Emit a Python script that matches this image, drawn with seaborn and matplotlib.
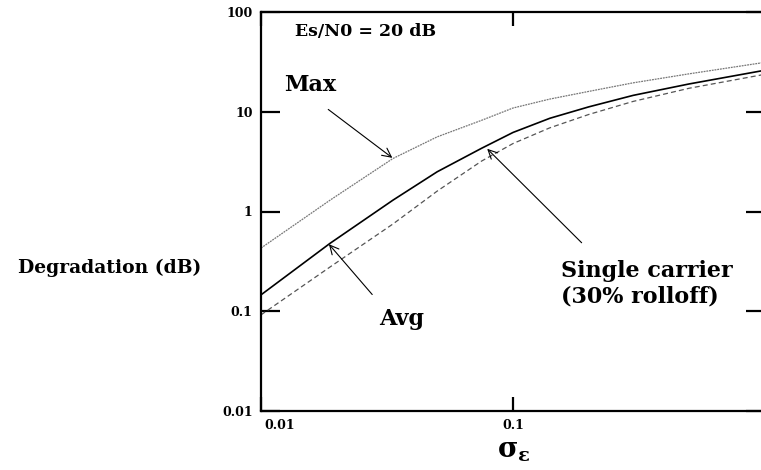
import matplotlib
matplotlib.use("Agg")
import matplotlib.pyplot as plt
import matplotlib.transforms as mtransforms
import pandas as pd
import seaborn as sns

# ---- data ----
sigma = [0.01, 0.0188, 0.0334, 0.05, 0.075, 0.1, 0.14, 0.2, 0.3, 0.5, 0.96, 1.0]
deg_max = [0.43, 1.30, 3.4, 5.6, 8.2, 10.9, 13.4, 16.0, 19.5, 24.0, 30.8, 31.3]
deg_avg = [0.146, 0.48, 1.30, 2.5, 4.3, 6.2, 8.6, 11.2, 14.6, 19.0, 25.6, 26.0]
deg_sc = [0.092, 0.278, 0.75, 1.6, 3.2, 4.8, 6.9, 9.4, 12.7, 17.2, 23.3, 23.7]
series_names = ["Max", "Avg", "Single carrier"]
x_ticks = [0.01, 0.1]
x_tick_labels = ["0.01", "0.1"]
y_ticks = [0.01, 0.1, 1, 10, 100]
y_tick_labels = ["0.01", "0.1", "1", "10", "100"]

sns.set_style("white")
plt.rcParams["font.family"] = ["DejaVu Serif"]
plt.rcParams["font.weight"] = "bold"
plt.rcParams["text.color"] = "black"
plt.rcParams["axes.labelcolor"] = "black"
plt.rcParams["xtick.color"] = "black"
plt.rcParams["ytick.color"] = "black"
plt.rcParams["mathtext.fontset"] = "dejavuserif"

df = pd.DataFrame({
    "sigma": sigma * 3,
    "deg": deg_max + deg_avg + deg_sc,
    "curve": [series_names[0]] * len(sigma) + [series_names[1]] * len(sigma) + [series_names[2]] * len(sigma),
})

fig = plt.figure(figsize=(7.61, 4.70), dpi=100)
W, H = 761.0, 470.0
ax = fig.add_axes([261 / W, 1 - 411 / H, (765 - 261) / W, (411 - 12) / H])

styles = {
    "Max": dict(color="#777777", lw=0.9, ls=(0, (1.5, 0.7))),
    "Avg": dict(color="black", lw=1.2, ls="-"),
    "Single carrier": dict(color="#555555", lw=0.9, ls=(0, (4, 2.5))),
}
for name in series_names:
    sub = df[df["curve"] == name]
    sns.lineplot(data=sub, x="sigma", y="deg", ax=ax, legend=False, **styles[name])

ax.set_xscale("log")
ax.set_yscale("log")
ax.set_xlim(0.01, 1.0)
ax.set_ylim(0.01, 100)

ax.set_xticks(x_ticks)
ax.set_xticklabels(x_tick_labels)
ax.set_yticks(y_ticks)
ax.set_yticklabels(y_tick_labels)
ax.minorticks_off()
ax.tick_params(axis="x", which="major", direction="in", length=10, width=1.6,
               top=True, bottom=True, labelsize=9, pad=6)
ax.tick_params(axis="y", which="major", direction="in", length=14, width=1.6,
               left=True, right=True, labelsize=9, pad=6)
for lbl in ax.get_xticklabels() + ax.get_yticklabels():
    lbl.set_fontweight("bold")
# first x label sits right of the spine in the reference
first = ax.get_xticklabels()[0]
first.set_transform(first.get_transform() + mtransforms.ScaledTranslation(19 / 100, 0, fig.dpi_scale_trans))

for s in ax.spines.values():
    s.set_linewidth(1.6)
    s.set_color("black")

ax.set_xlabel(r"$\mathbf{\sigma}_{\mathbf{\varepsilon}}$", fontsize=20)
ax.xaxis.set_label_coords((514 - 261) / 504, -(450 - 411) / 399)
ax.xaxis.label.set_va("center")
ax.set_ylabel("Degradation (dB)", fontsize=13.5, fontweight="bold", rotation=0,
              ha="right", va="center")
ax.yaxis.set_label_coords((201 - 261) / 504, (411 - 268) / 399)

ax.text((295 - 261) / 504, (411 - 31) / 399, "Es/N0 = 20 dB", transform=ax.transAxes,
        fontsize=12.5, fontweight="bold", ha="left", va="center")

ax.annotate("Max", xy=(0.0332, 3.45), xytext=(0.0124, 18.5), fontsize=16,
            fontweight="bold", ha="left", va="center",
            arrowprops=dict(arrowstyle="->", lw=0.8, color="black",
                            shrinkA=12, shrinkB=0, relpos=(0.5, 0.0)))
ax.annotate("Avg", xy=(0.0186, 0.47), xytext=(0.0363, 0.083), fontsize=16,
            fontweight="bold", ha="center", va="center",
            arrowprops=dict(arrowstyle="->", lw=0.8, color="black",
                            shrinkA=10, shrinkB=0, relpos=(0.1, 1.0)))
ax.annotate("Single carrier\n(30% rolloff)", xy=(0.079, 4.25), xytext=(0.155, 0.19),
            fontsize=16, fontweight="bold", ha="left", va="center",
            linespacing=1.2,
            arrowprops=dict(arrowstyle="->", lw=0.8, color="black",
                            shrinkA=14, shrinkB=0,
                            relpos=(0.22, 1.0)))

fig.savefig("out.png", dpi=100)
